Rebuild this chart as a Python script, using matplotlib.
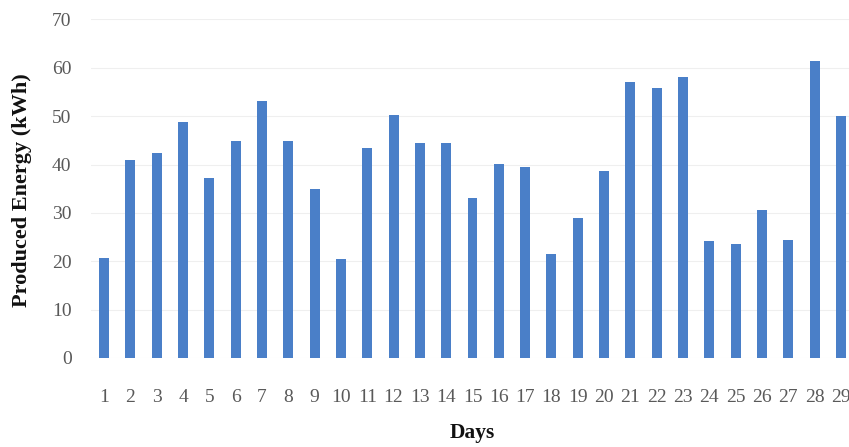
import matplotlib.pyplot as plt
import numpy as np

days = [str(d) for d in range(1, 30)]
energy = [20.7, 40.9, 42.3, 48.8, 37.3, 44.8, 53.2, 44.8, 34.9, 20.5,
          43.4, 50.2, 44.5, 44.5, 33.0, 40.1, 39.4, 21.5, 29.0, 38.7,
          57.1, 55.9, 58.1, 24.1, 23.6, 30.5, 24.3, 61.4, 50.1]
y_ticks = [0, 10, 20, 30, 40, 50, 60, 70]

bar_color = "#4A7FC8"
grid_color = "#EFEFEF"
tick_color = "#595959"

plt.rcParams["font.family"] = ["Liberation Serif", "DejaVu Serif"]

fig = plt.figure(figsize=(8.49, 4.47), dpi=100)
ax = fig.add_axes([91 / 849, 89 / 447, 763 / 849, 338.6 / 447])

x = np.arange(1, len(energy) + 1)
ax.bar(x, energy, width=0.38, color=bar_color, zorder=3)

ax.set_xlim(0.5, len(energy) + 0.5)
ax.set_ylim(0, 70)
ax.set_yticks(y_ticks)
ax.set_xticks(x)
ax.set_xticklabels(days)
ax.yaxis.grid(True, color=grid_color, linewidth=0.8, zorder=0)
ax.set_axisbelow(True)
for spine in ax.spines.values():
    spine.set_visible(False)
ax.tick_params(axis="both", length=0, colors=tick_color, labelsize=14)
ax.tick_params(axis="x", pad=22)
ax.tick_params(axis="y", pad=14)

fig.text(22 / 849, 1 - 190 / 447, "Produced Energy (kWh)", rotation=90,
         ha="center", va="center", fontsize=16, fontweight="bold",
         color="#111111")
fig.text(472 / 849, 1 - 433 / 447, "Days", ha="center", va="center",
         fontsize=15.5, fontweight="bold", color="#111111")

fig.savefig("out.png", dpi=100)
